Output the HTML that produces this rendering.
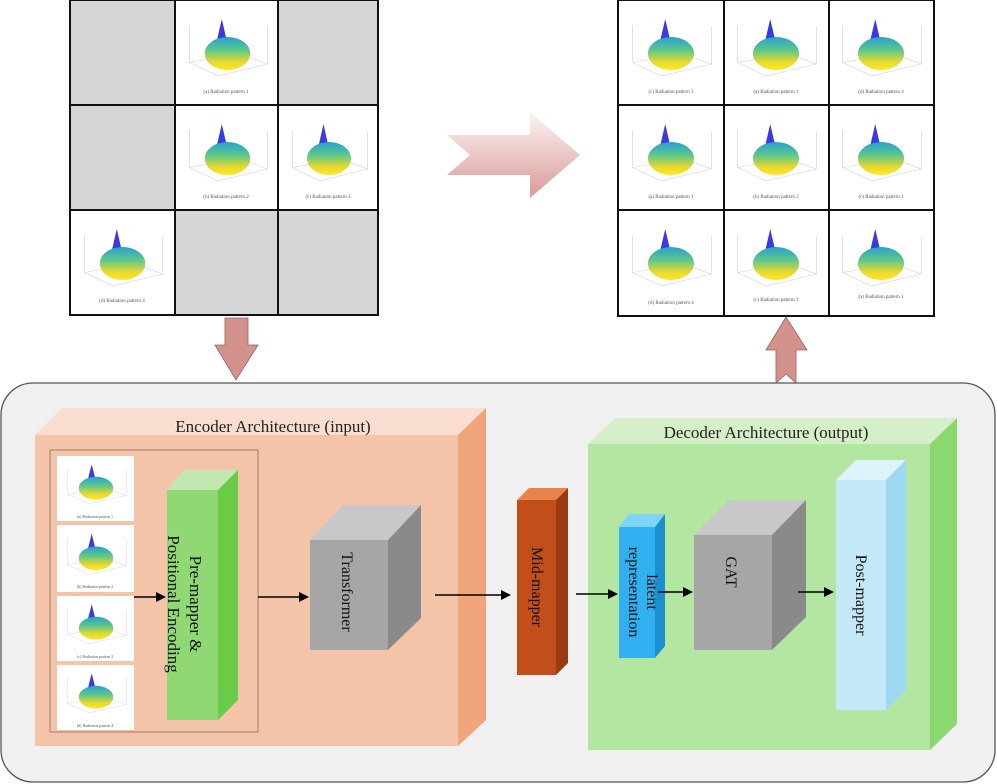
<!DOCTYPE html>
<html><head><meta charset="utf-8"><style>body{margin:0;background:#fff}svg{display:block}</style></head><body>
<svg width="997" height="784" viewBox="0 0 997 784" xmlns="http://www.w3.org/2000/svg" font-family="Liberation Serif, serif">
<defs>
<linearGradient id="bg" x1="0" y1="0" x2="0" y2="1"><stop offset="0" stop-color="#2a9fd0"/><stop offset="0.4" stop-color="#5cc88a"/><stop offset="0.75" stop-color="#e8d830"/><stop offset="1" stop-color="#ffe820"/></linearGradient>
<linearGradient id="ag" x1="0" y1="0" x2="0" y2="1"><stop offset="0" stop-color="#fbf4f2"/><stop offset="1" stop-color="#d99a98"/></linearGradient>
<symbol id="blob" viewBox="0 0 100 100" preserveAspectRatio="none">
<g stroke="#ccc" stroke-width="0.6" fill="none"><path d="M10 20 L10 70 L40 88 L92 72 L92 22"/><path d="M10 70 L62 58 L92 72"/></g>
<polygon points="38,45 44,12 50,45" fill="#3a3ae0"/>
<ellipse cx="50" cy="58" rx="24" ry="22" fill="url(#bg)"/>
</symbol>
</defs>
<!-- left grid -->
<rect x="70" y="0" width="308" height="315" fill="#fff"/>
<rect x="70" y="0" width="105" height="105" fill="#d6d6d6"/>
<rect x="278" y="0" width="100" height="105" fill="#d6d6d6"/>
<rect x="70" y="105" width="105" height="105" fill="#d6d6d6"/>
<rect x="175" y="210" width="103" height="105" fill="#d6d6d6"/>
<rect x="278" y="210" width="100" height="105" fill="#d6d6d6"/>
<use href="#blob" x="180" y="10" width="95" height="75"/>
<use href="#blob" x="180" y="115" width="95" height="75"/>
<use href="#blob" x="283" y="115" width="92" height="75"/>
<use href="#blob" x="75" y="220" width="95" height="75"/>
<g font-size="5" fill="#555" text-anchor="middle">
<text x="226" y="93">(a) Radiation pattern 1</text>
<text x="226" y="198">(b) Radiation pattern 2</text>
<text x="328" y="198">(c) Radiation pattern 3</text>
<text x="122" y="302">(d) Radiation pattern 4</text>
</g>
<g stroke="#111" stroke-width="2" fill="none"><rect x="70" y="0" width="308" height="315"/><path d="M175 0V315M278 0V315M70 105H378M70 210H378"/></g>
<!-- right grid -->
<rect x="618" y="0" width="316" height="316" fill="#fff"/>
<use href="#blob" x="623" y="10" width="96" height="75"/><use href="#blob" x="728" y="10" width="96" height="75"/><use href="#blob" x="833" y="10" width="96" height="75"/>
<use href="#blob" x="623" y="115" width="96" height="75"/><use href="#blob" x="728" y="115" width="96" height="75"/><use href="#blob" x="833" y="115" width="96" height="75"/>
<use href="#blob" x="623" y="220" width="96" height="75"/><use href="#blob" x="728" y="220" width="96" height="75"/><use href="#blob" x="833" y="220" width="96" height="75"/>
<g font-size="5" fill="#555" text-anchor="middle">
<text x="671" y="93">(c) Radiation pattern 3</text><text x="776" y="93">(a) Radiation pattern 1</text><text x="881" y="93">(d) Radiation pattern 4</text>
<text x="671" y="198">(a) Radiation pattern 1</text><text x="776" y="198">(b) Radiation pattern 2</text><text x="881" y="198">(c) Radiation pattern 3</text>
<text x="671" y="304">(d) Radiation pattern 4</text><text x="776" y="301">(c) Radiation pattern 3</text><text x="881" y="298">(a) Radiation pattern 1</text>
</g>
<g stroke="#111" stroke-width="2" fill="none"><rect x="618" y="0" width="316" height="316"/><path d="M724 0V316M829 0V316M618 105H934M618 210H934"/></g>
<!-- big arrow -->
<polygon points="447,135 530,135 530,112 580,155 530,198 530,175 447,175 470,155" fill="url(#ag)"/>
<!-- down arrow -->
<polygon points="225,318 248,318 248,345 258,345 236,380 215,345 225,345" fill="#d4928d" stroke="#a06060" stroke-width="0.8"/>
<!-- main panel -->
<rect x="1" y="383" width="994" height="399" rx="32" fill="#f0f0f0" stroke="#555" stroke-width="1.3"/>
<!-- up arrow -->
<polygon points="776,383 776,350 766,350 786,317 807,350 796,350 796,383 786,374" fill="#d4928d" stroke="#a06060" stroke-width="0.8"/>
<!-- encoder -->
<polygon points="35,435 62,408 486,408 458,435" fill="#f8ddd0"/>
<polygon points="458,435 486,408 486,720 458,746" fill="#f0a57a"/>
<rect x="35" y="435" width="423" height="311" fill="#f4c4a8"/>
<text x="273" y="432" font-size="17" text-anchor="middle" fill="#222">Encoder Architecture (input)</text>
<rect x="50" y="450" width="208" height="282" fill="none" stroke="#8a6a5a" stroke-width="0.8"/>
<rect x="57" y="456" width="77" height="65" fill="#fff"/><rect x="57" y="525" width="77" height="67" fill="#fff"/><rect x="57" y="596" width="77" height="65" fill="#fff"/><rect x="57" y="665" width="77" height="65" fill="#fff"/>
<use href="#blob" x="60" y="458" width="72" height="52"/><use href="#blob" x="60" y="527" width="72" height="54"/><use href="#blob" x="60" y="598" width="72" height="52"/><use href="#blob" x="60" y="667" width="72" height="52"/>
<g font-size="4" fill="#555" text-anchor="middle"><text x="95" y="518">(a) Radiation pattern 1</text><text x="95" y="588">(b) Radiation pattern 2</text><text x="95" y="658">(c) Radiation pattern 3</text><text x="95" y="727">(d) Radiation pattern 4</text></g>
<!-- green -->
<polygon points="167,490 184,470 238,470 218,490" fill="#c0e8b0"/>
<polygon points="218,490 238,470 238,700 218,720" fill="#6acb48"/>
<rect x="167" y="490" width="51" height="230" fill="#8fd873"/>
<text transform="translate(186,604) rotate(90)" font-size="17" text-anchor="middle" fill="#111"><tspan x="0" dy="-4">Pre-mapper &amp;</tspan><tspan x="0" dy="22">Positional Encoding</tspan></text>
<!-- transformer -->
<polygon points="310,540 343,505 421,505 388,540" fill="#c8c8c8"/>
<polygon points="388,540 421,505 421,618 388,650" fill="#8a8a8a"/>
<rect x="310" y="540" width="78" height="110" fill="#a6a6a6"/>
<text transform="translate(342,592) rotate(90)" font-size="16" text-anchor="middle" fill="#111">Transformer</text>
<!-- decoder -->
<polygon points="588,444 615,418 957,418 930,444" fill="#d5f0c8"/>
<polygon points="930,444 957,418 957,724 930,750" fill="#8cd870"/>
<rect x="588" y="444" width="342" height="306" fill="#b3e6a0"/>
<text x="766" y="438" font-size="17" text-anchor="middle" fill="#222">Decoder Architecture (output)</text>
<!-- mid-mapper -->
<polygon points="517,500 529,488 568,488 556,500" fill="#e8844a"/>
<polygon points="556,500 568,488 568,663 556,675" fill="#9a3a10"/>
<rect x="517" y="500" width="39" height="175" fill="#c24e1a"/>
<text transform="translate(532,587) rotate(90)" font-size="16" text-anchor="middle" fill="#111">Mid-mapper</text>
<!-- latent -->
<polygon points="619,527 629,514 665,514 655,527" fill="#80d4f8"/>
<polygon points="655,527 665,514 665,646 655,658" fill="#1a90d0"/>
<rect x="619" y="527" width="36" height="131" fill="#30b0f0"/>
<text transform="translate(637,592) rotate(90)" font-size="16" text-anchor="middle" fill="#111"><tspan x="0" dy="-10">latent</tspan><tspan x="0" dy="18">representation</tspan></text>
<!-- GAT -->
<polygon points="694,535 729,500 806,500 772,535" fill="#c8c8c8"/>
<polygon points="772,535 806,500 806,617 772,650" fill="#8a8a8a"/>
<rect x="694" y="535" width="78" height="115" fill="#a6a6a6"/>
<text transform="translate(726,572) rotate(90)" font-size="16" text-anchor="middle" fill="#111">GAT</text>
<!-- post-mapper -->
<polygon points="836,480 856,460 906,460 886,480" fill="#def3fc"/>
<polygon points="886,480 906,460 906,690 886,710" fill="#9fd8f2"/>
<rect x="836" y="480" width="50" height="230" fill="#c5e8f8"/>
<text transform="translate(856,595) rotate(90)" font-size="16" text-anchor="middle" fill="#111">Post-mapper</text>
<!-- arrows -->
<g stroke="#000" stroke-width="1.6">
<line x1="134" y1="597" x2="157" y2="597"/><line x1="258" y1="597" x2="300" y2="597"/><line x1="435" y1="595" x2="502" y2="595"/><line x1="576" y1="594" x2="609" y2="594"/><line x1="658" y1="592" x2="684" y2="592"/><line x1="798" y1="592" x2="825" y2="592"/>
</g>
<g fill="#000">
<polygon points="156,592 166,597 156,602"/><polygon points="299,592 309,597 299,602"/><polygon points="501,590 511,595 501,600"/><polygon points="608,589 618,594 608,599"/><polygon points="683,587 693,592 683,597"/><polygon points="824,587 834,592 824,597"/>
</g>
</svg>
</body></html>
